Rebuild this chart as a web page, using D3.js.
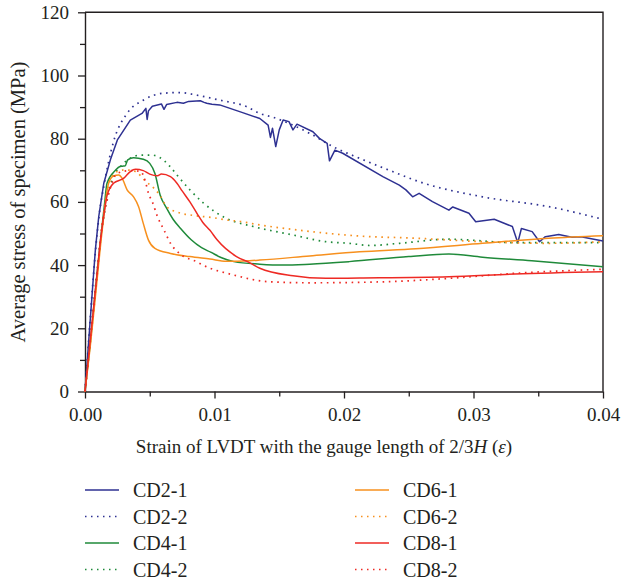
<!DOCTYPE html>
<html>
<head>
<meta charset="utf-8">
<script src="https://cdn.jsdelivr.net/npm/d3@7"></script>
<style>
  body { margin: 0; background: #fff; }
  svg text { font-family: "Liberation Serif", "DejaVu Serif", serif; fill: #231f20; }
</style>
</head>
<body>
<div class="chart"></div>
<script>
// strain / stress pairs
const cd21 = [[0,0],[0.00063,35.3],[0.0008,44.8],[0.00106,55.3],[0.00145,65.9],[0.00196,73.3],[0.0025,79.6],[0.0035,85.9],[0.0044,88],[0.0047,89.6],[0.0048,86.1],[0.0049,88.8],[0.0052,90.3],[0.0059,91],[0.0061,89.3],[0.0063,90.8],[0.0071,91.5],[0.0076,91.2],[0.008,91.8],[0.0089,92],[0.0092,91.5],[0.0094,91.2],[0.0098,90.9],[0.0104,90.7],[0.012,88.5],[0.0135,86.4],[0.01414,84.3],[0.01432,80.4],[0.01448,83.3],[0.01473,77.5],[0.015,82.8],[0.0153,85.9],[0.01575,85.4],[0.01606,82.8],[0.01637,84.6],[0.0176,82.2],[0.0181,80.1],[0.0187,78.5],[0.01888,73.0],[0.0193,76.4],[0.0199,75.4],[0.023,68.0],[0.02427,65.3],[0.02478,63.8],[0.0253,61.6],[0.0258,62.7],[0.02683,60.1],[0.0281,57.4],[0.0284,58.4],[0.02965,56.4],[0.03017,53.7],[0.0316,54.5],[0.033,52.2],[0.03342,47.1],[0.0337,51.6],[0.03453,50.6],[0.0351,47.4],[0.03555,49],[0.03658,49.7],[0.0376,48.8],[0.0383,49],[0.04,47.6]];
const cd22 = [[0,0],[0.0003,17],[0.0006,34],[0.0008,44],[0.0011,56],[0.0015,66],[0.0022,79],[0.00325,88],[0.0045,92.2],[0.0061,94.4],[0.00735,94.6],[0.0086,93.8],[0.0104,92.2],[0.0125,90.1],[0.0135,88],[0.0145,86.8],[0.01735,81.7],[0.01914,77.5],[0.0212,73.8],[0.02375,69.6],[0.0258,66.4],[0.0307,61.6],[0.0358,58.5],[0.04,54.5]];
const cd41 = [[0,0],[0.0004,15],[0.0009,36],[0.0012,48],[0.0015,59],[0.0017,65.9],[0.00235,70],[0.0027,71.2],[0.0029,71.3],[0.0031,71.4],[0.0033,73.3],[0.00375,74],[0.0045,73.5],[0.005,72.2],[0.0054,69],[0.0058,62.2],[0.0063,58],[0.0068,54.5],[0.0074,51.5],[0.0082,48],[0.009,45.5],[0.0097,44.1],[0.0105,42.4],[0.0115,41.1],[0.0135,40.3],[0.0153,40],[0.01735,40.3],[0.0204,41.1],[0.025,42.7],[0.0281,43.5],[0.0307,42.5],[0.0345,41.4],[0.04,39.5]];
const cd42 = [[0,0],[0.0004,16],[0.0009,37],[0.0013,51],[0.0017,61],[0.0022,68],[0.00286,71.7],[0.0035,73.8],[0.00427,74.8],[0.0052,74.8],[0.0058,74],[0.0065,71.5],[0.0071,68.5],[0.0081,63.8],[0.0091,59.8],[0.0109,54.8],[0.013,52.2],[0.0161,49.5],[0.0186,47.4],[0.0204,46.9],[0.022,46.2],[0.0243,46.9],[0.0281,48.2],[0.0332,47.1],[0.04,47.1]];
const cd61 = [[0,0],[0.0004,14],[0.0009,34],[0.0013,50],[0.00183,66],[0.0022,68.2],[0.0026,68.5],[0.00286,67.5],[0.00325,63.8],[0.00375,61.6],[0.00414,58.5],[0.0045,53.2],[0.0049,47.9],[0.0054,45.3],[0.0066,43.7],[0.0081,42.7],[0.00965,41.9],[0.0109,41.2],[0.0127,41.4],[0.0135,41.6],[0.01735,42.9],[0.0212,44.2],[0.02555,45.2],[0.0307,46.9],[0.0358,48.5],[0.04,49.3]];
const cd62 = [[0,0],[0.0004,15],[0.0009,35],[0.0013,52],[0.00195,67],[0.00248,69.6],[0.003,70.1],[0.0036,70],[0.004,69.3],[0.0047,66.5],[0.0054,64],[0.0058,62],[0.0063,58.5],[0.0071,56.8],[0.0084,55.7],[0.0099,55],[0.0109,54.3],[0.012,53.8],[0.0135,52.7],[0.01606,51.3],[0.0186,50.1],[0.0212,49.2],[0.02555,48.5],[0.0307,47.4],[0.0358,46.9],[0.04,47.4]];
const cd81 = [[0,0],[0.0004,16],[0.0009,36],[0.0012,48],[0.0015,57],[0.0017,62],[0.0022,65.9],[0.003,67.5],[0.0035,69.6],[0.0039,70.3],[0.0045,69.9],[0.005,68.8],[0.0056,68.3],[0.0059,68.8],[0.0066,68],[0.0071,65.9],[0.0075,63.5],[0.0081,60],[0.0087,56],[0.0091,53.5],[0.00965,51],[0.0102,48],[0.0117,42.7],[0.0127,40.8],[0.0135,39],[0.01606,36.6],[0.0186,35.8],[0.0212,35.9],[0.0281,36.3],[0.0332,37.2],[0.04,37.9]];
const cd82 = [[0,0],[0.0004,16],[0.0009,36],[0.0013,52],[0.0018,62],[0.00248,69],[0.0035,69.9],[0.0043,69.6],[0.0047,65.9],[0.0049,62.7],[0.0052,60],[0.0056,55.3],[0.0061,51.1],[0.0066,46.9],[0.00735,43.5],[0.0086,41.1],[0.0091,40],[0.01145,36.9],[0.0143,34.7],[0.01735,34.4],[0.023,34.7],[0.0281,35.8],[0.0332,37.4],[0.04,38.7]];

const seriesNames = ['CD2-1', 'CD2-2', 'CD4-1', 'CD4-2', 'CD6-1', 'CD6-2', 'CD8-1', 'CD8-2'];
const seriesData = [cd21, cd22, cd41, cd42, cd61, cd62, cd81, cd82];
const xTicks = [0, 0.01, 0.02, 0.03, 0.04];
const yTicks = [0, 20, 40, 60, 80, 100, 120];

const colors = { 'CD2': '#2e3192', 'CD4': '#1f8a3a', 'CD6': '#f7901e', 'CD8': '#ee2a24' };

const width = 623, height = 584;
const plotLeft = 85, plotRight = 603, plotTop = 12.3, plotBottom = 391.5;

const svg = d3.select('.chart').append('svg')
    .attr('width', width)
    .attr('height', height);

const x = d3.scaleLinear().domain([0, 0.04]).range([plotLeft, plotRight]);
const y = d3.scaleLinear().domain([0, 120]).range([plotBottom, plotTop]);

// minor ticks first, then major ones with labels
svg.append('g')
    .attr('transform', `translate(0,${plotBottom})`)
    .call(d3.axisBottom(x).tickValues([0.005, 0.015, 0.025, 0.035]).tickSize(5).tickFormat(''))
    .call(g => g.select('.domain').remove());
svg.append('g')
    .attr('transform', `translate(${plotLeft},0)`)
    .call(d3.axisLeft(y).tickValues([10, 30, 50, 70, 90, 110]).tickSize(5).tickFormat(''))
    .call(g => g.select('.domain').remove());

const xAxis = svg.append('g')
    .attr('transform', `translate(0,${plotBottom})`)
    .call(d3.axisBottom(x).tickValues(xTicks).tickSize(7).tickPadding(9).tickSizeOuter(0).tickFormat(d3.format('.2f')));
const yAxis = svg.append('g')
    .attr('transform', `translate(${plotLeft},0)`)
    .call(d3.axisLeft(y).tickValues(yTicks).tickSize(7).tickPadding(9).tickSizeOuter(0));

[xAxis, yAxis].forEach(g => {
    g.attr('font-family', null).attr('font-size', null);
    g.selectAll('text').style('font-size', '19px');
});
svg.selectAll('.tick line').attr('stroke', '#231f20').attr('stroke-width', 1.3);
svg.selectAll('.domain').attr('stroke', '#231f20').attr('stroke-width', 1.4);

// frame top and right
svg.append('path')
    .attr('d', `M${plotLeft},${plotTop}H${plotRight}V${plotBottom}`)
    .attr('fill', 'none')
    .attr('stroke', '#231f20')
    .attr('stroke-width', 1.4);

const line = d3.line()
    .x(d => x(d[0]))
    .y(d => y(d[1]));

seriesNames.forEach((name, i) => {
    const dotted = name.endsWith('-2');
    const c = colors[name.slice(0, 3)];
    svg.append('path')
        .datum(seriesData[i])
        .attr('fill', 'none')
        .attr('stroke', c)
        .attr('stroke-width', dotted ? 1.7 : 1.5)
        .attr('stroke-dasharray', dotted ? '1.6,4.6' : null)
        .attr('stroke-linejoin', 'round')
        .attr('d', line.curve(name === 'CD2-1' ? d3.curveLinear : d3.curveMonotoneX));
});

// axis titles
svg.append('text')
    .attr('x', 324)
    .attr('y', 453)
    .attr('text-anchor', 'middle')
    .style('font-size', '19px')
    .html('Strain of LVDT with the gauge length of 2/3<tspan font-style="italic">H</tspan> (<tspan font-style="italic">ε</tspan>)');

svg.append('text')
    .attr('transform', 'translate(25,202) rotate(-90)')
    .attr('text-anchor', 'middle')
    .style('font-size', '20.5px')
    .text('Average stress of specimen (MPa)');

// legend, two columns of four
const legend = svg.append('g');
seriesNames.forEach((name, i) => {
    const col = Math.floor(i / 4), row = i % 4;
    const lx = 85 + col * 270;
    const ly = 490 + row * 26.5;
    const dotted = name.endsWith('-2');
    legend.append('line')
        .attr('x1', lx).attr('x2', lx + 34)
        .attr('y1', ly).attr('y2', ly)
        .attr('stroke', colors[name.slice(0, 3)])
        .attr('stroke-width', 1.5)
        .attr('stroke-dasharray', dotted ? '1.5,4.5' : null);
    legend.append('text')
        .attr('x', lx + 48)
        .attr('y', ly + 7)
        .style('font-size', '20px')
        .text(name);
});
</script>
</body>
</html>
